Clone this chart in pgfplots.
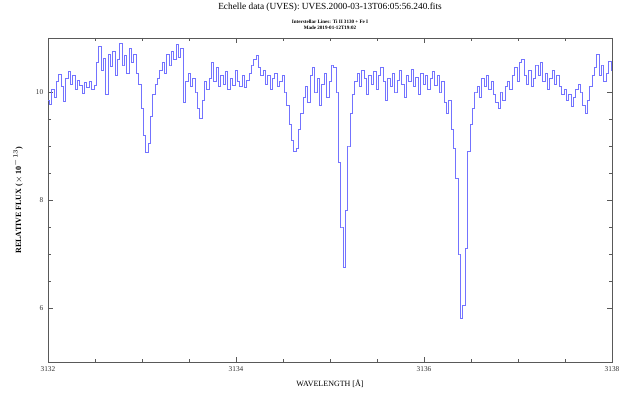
\documentclass[border=0pt]{standalone}
\usepackage{pgfplots}
\pgfplotsset{compat=1.18}
\usepackage{fontspec}
\setmainfont{Liberation Serif}
\definecolor{spec}{RGB}{115,115,255}
\begin{document}
\begin{tikzpicture}
\useasboundingbox (-36pt,-33pt) rectangle (440.25pt,271.5pt);
\begin{axis}[
  at={(0,0)}, anchor=south west,
  scale only axis, width=423pt, height=243pt,
  xmin=3132, xmax=3138, ymin=5, ymax=11,
  xtick={3132,3134,3136,3138},
  xticklabels={3132,3134,3136,3138},
  ytick={6,8,10},
  minor x tick num=3, minor y tick num=3,
  tick align=inside,
  major tick length=4pt, minor tick length=2.5pt,
  axis line style={black!65, line width=0.6pt},
  every tick/.style={black!65, line width=0.4pt},
  tick label style={font=\fontsize{5.5}{6}\selectfont, black!80},
  /pgf/number format/assume math mode=true,
  scaled x ticks=false,
  xlabel={WAVELENGTH [\AA]},
  ylabel={\textbf{RELATIVE FLUX ($\times$ 10$^{-13}$)}},
  xlabel style={font=\fontsize{6}{7}\selectfont, yshift=1pt},
  ylabel style={font=\fontsize{6}{7}\selectfont, yshift=3pt},
  clip mode=individual,
]
\addplot[const plot mark mid, color=spec, line width=0.45pt] coordinates {
(3132.000,9.85) (3132.025,9.78) (3132.050,10.05) (3132.075,9.90) (3132.100,10.20) (3132.125,10.32) (3132.150,10.10) (3132.175,9.82) (3132.200,10.25) (3132.225,10.38)
(3132.250,10.15) (3132.275,10.30) (3132.300,10.05) (3132.325,10.22) (3132.350,10.12) (3132.375,9.98) (3132.400,10.18) (3132.425,10.08) (3132.450,10.20) (3132.475,10.05)
(3132.500,10.12) (3132.525,10.55) (3132.550,10.85) (3132.575,10.40) (3132.600,10.62) (3132.625,9.95) (3132.650,10.70) (3132.675,10.48) (3132.700,10.75) (3132.725,10.30)
(3132.750,10.60) (3132.775,10.90) (3132.800,10.50) (3132.825,10.68) (3132.850,10.35) (3132.875,10.80) (3132.900,10.55) (3132.925,10.70) (3132.950,10.35) (3132.975,10.15)
(3133.000,9.70) (3133.025,9.20) (3133.050,8.89) (3133.075,9.05) (3133.100,9.55) (3133.125,9.95) (3133.150,10.15) (3133.175,10.25) (3133.200,10.40) (3133.225,10.55)
(3133.250,10.35) (3133.275,10.70) (3133.300,10.50) (3133.325,10.75) (3133.350,10.60) (3133.375,10.88) (3133.400,10.65) (3133.425,10.80) (3133.450,9.80) (3133.475,10.20)
(3133.500,10.35) (3133.525,10.10) (3133.550,10.25) (3133.575,10.00) (3133.600,9.70) (3133.625,9.52) (3133.650,9.85) (3133.675,10.20) (3133.700,10.05) (3133.725,10.25)
(3133.750,10.55) (3133.775,10.20) (3133.800,10.45) (3133.825,10.10) (3133.850,10.30) (3133.875,10.15) (3133.900,10.38) (3133.925,10.05) (3133.950,10.25) (3133.975,10.12)
(3134.000,10.40) (3134.025,10.20) (3134.050,10.10) (3134.075,10.30) (3134.100,10.08) (3134.125,10.22) (3134.150,10.35) (3134.175,10.50) (3134.200,10.60) (3134.225,10.68)
(3134.250,10.45) (3134.275,10.30) (3134.300,10.40) (3134.325,10.15) (3134.350,10.30) (3134.375,10.05) (3134.400,10.25) (3134.425,10.35) (3134.450,10.10) (3134.475,10.20)
(3134.500,10.30) (3134.525,10.00) (3134.550,9.75) (3134.575,9.40) (3134.600,9.10) (3134.625,8.90) (3134.650,8.95) (3134.675,9.30) (3134.700,9.60) (3134.725,9.90)
(3134.750,10.10) (3134.775,9.80) (3134.800,10.30) (3134.825,10.45) (3134.850,10.00) (3134.875,10.25) (3134.900,9.75) (3134.925,10.15) (3134.950,10.35) (3134.975,9.90)
(3135.000,10.20) (3135.025,10.50) (3135.050,10.45) (3135.075,10.00) (3135.100,8.70) (3135.125,7.50) (3135.150,6.76) (3135.175,7.80) (3135.200,9.00) (3135.225,9.60)
(3135.250,9.95) (3135.275,10.20) (3135.300,10.35) (3135.325,10.10) (3135.350,10.40) (3135.375,10.25) (3135.400,9.95) (3135.425,10.30) (3135.450,10.15) (3135.475,10.38)
(3135.500,10.05) (3135.525,10.30) (3135.550,10.45) (3135.575,10.20) (3135.600,9.85) (3135.625,10.25) (3135.650,10.10) (3135.675,10.35) (3135.700,10.00) (3135.725,10.22)
(3135.750,10.40) (3135.775,10.15) (3135.800,9.90) (3135.825,10.30) (3135.850,10.20) (3135.875,10.42) (3135.900,10.10) (3135.925,10.28) (3135.950,9.95) (3135.975,10.35)
(3136.000,10.15) (3136.025,10.30) (3136.050,10.05) (3136.075,10.25) (3136.100,10.38) (3136.125,10.12) (3136.150,10.30) (3136.175,10.00) (3136.200,10.20) (3136.225,9.80)
(3136.250,9.60) (3136.275,9.85) (3136.300,9.30) (3136.325,8.95) (3136.350,8.40) (3136.375,7.00) (3136.400,5.80) (3136.425,6.05) (3136.450,7.10) (3136.475,8.90)
(3136.500,9.40) (3136.525,9.70) (3136.550,10.00) (3136.575,10.10) (3136.600,9.90) (3136.625,10.25) (3136.650,10.10) (3136.675,10.30) (3136.700,10.05) (3136.725,10.20)
(3136.750,9.95) (3136.775,9.80) (3136.800,9.70) (3136.825,10.00) (3136.850,9.85) (3136.875,10.10) (3136.900,10.20) (3136.925,10.05) (3136.950,10.30) (3136.975,10.45)
(3137.000,10.20) (3137.025,10.55) (3137.050,10.60) (3137.075,10.30) (3137.100,10.15) (3137.125,10.40) (3137.150,10.10) (3137.175,10.25) (3137.200,10.50) (3137.225,10.30)
(3137.250,10.55) (3137.275,10.20) (3137.300,10.35) (3137.325,10.05) (3137.350,10.25) (3137.375,10.40) (3137.400,10.15) (3137.425,10.30) (3137.450,10.10) (3137.475,9.95)
(3137.500,10.05) (3137.525,9.85) (3137.550,9.95) (3137.575,9.74) (3137.600,9.90) (3137.625,10.05) (3137.650,10.15) (3137.675,10.00) (3137.700,9.75) (3137.725,9.60)
(3137.750,9.85) (3137.775,10.10) (3137.800,10.30) (3137.825,10.45) (3137.850,10.70) (3137.875,10.30) (3137.900,10.50) (3137.925,10.20) (3137.950,10.35) (3137.975,10.57)
(3138.000,10.40)
};
\end{axis}
\node[font=\fontsize{7}{8}\selectfont, anchor=base] at (211.5pt,264pt) {Echelle data (UVES): UVES.2000-03-13T06:05:56.240.fits};
\node[font=\fontsize{3.8}{4}\selectfont\bfseries, anchor=base] at (211.5pt,254pt) {Interstellar Lines: Ti II 3130 + Fe I};
\node[font=\fontsize{3.8}{4}\selectfont\bfseries, anchor=base] at (211.5pt,249pt) {Made 2019-01-12T19:02};
\end{tikzpicture}
\end{document}
